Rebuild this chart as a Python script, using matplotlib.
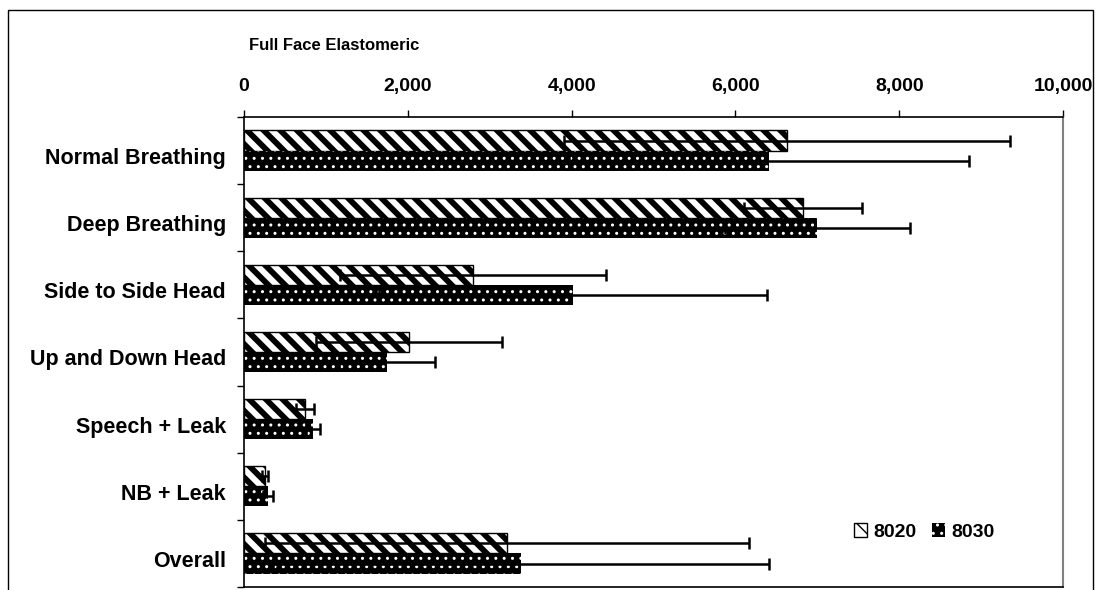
import numpy as np
import matplotlib
matplotlib.use("Agg")
import matplotlib.pyplot as plt
from matplotlib.patches import Rectangle

plt.rcParams['font.family'] = ['Liberation Sans', 'DejaVu Sans']
plt.rcParams['font.weight'] = 'bold'

categories = ["Normal Breathing", "Deep Breathing", "Side to Side Head",
              "Up and Down Head", "Speech + Leak", "NB + Leak", "Overall"]
vals_8020 = [6630, 6825, 2796, 2015, 745, 256, 3211]
err_8020 = [2720, 720, 1624, 1135, 110, 37, 2955]
vals_8030 = [6410, 7000, 4017, 1746, 842, 293, 3382]
err_8030 = [2440, 1130, 2370, 586, 86, 61, 3028]
xticks = [0, 2000, 4000, 6000, 8000, 10000]

fig = plt.figure(figsize=(10.96, 5.90), dpi=100)
ax = fig.add_axes([244/1096, 1-587/590, (1063-244)/1096, (587-117)/590])

y = np.arange(len(categories))
h = 0.3

b1 = ax.barh(y - h/2, vals_8020, height=h, color='white', edgecolor='black',
             hatch='\\\\', linewidth=1, label='8020')
b2 = ax.barh(y + h/2, vals_8030, height=h, color='black', edgecolor='white',
             hatch='..', linewidth=0, label='8030')
for p in b1:
    p.set_hatch_linewidth(4.2)
for p in b2:
    p.set_hatch_linewidth(1.0)

ax.errorbar(vals_8020, y - h/2, xerr=err_8020, fmt='none', ecolor='black',
            elinewidth=1.8, capsize=4, capthick=1.8)
ax.errorbar(vals_8030, y + h/2, xerr=err_8030, fmt='none', ecolor='black',
            elinewidth=1.8, capsize=4, capthick=1.8)

ax.set_xlim(0, 10000)
ax.set_ylim(len(categories) - 0.5, -0.5)
ax.xaxis.tick_top()
ax.set_xticks(xticks)
ax.set_xticklabels([f"{v:,}" for v in xticks], fontsize=14, fontweight='bold')
ax.tick_params(axis='x', direction='out', length=5, width=1, pad=10.5)

ax.set_yticks(np.arange(len(categories) + 1) - 0.5)
ax.set_yticklabels([])
ax.set_yticks(y + 0.08, minor=True)
ax.set_yticklabels(categories, minor=True, fontsize=15.5, fontweight='bold')
ax.tick_params(axis='y', which='major', direction='out', length=5, width=1)
ax.tick_params(axis='y', which='minor', length=0, pad=13)

for s in ['top', 'left', 'bottom']:
    ax.spines[s].set_color('black')
    ax.spines[s].set_linewidth(1.2)
ax.spines['right'].set_color('#808080')
ax.spines['right'].set_linewidth(1.5)

fig.text(334/1096, 1-46/590, "Full Face Elastomeric", ha='center', va='center',
         fontsize=12, fontweight='bold')

leg = ax.legend(loc='center', bbox_to_anchor=((924-244)/(1063-244), 1-(532-117)/470),
                ncol=2, frameon=False, handlelength=0.7, handleheight=0.7,
                handletextpad=0.3, columnspacing=0.8,
                prop={'size': 14, 'weight': 'bold'})

fig.patches.append(Rectangle((8/1096, -0.1), (1093-8)/1096, 1.1 - 10/590,
                             transform=fig.transFigure, fill=False,
                             edgecolor='black', linewidth=1))

fig.savefig("out.png", dpi=100)
